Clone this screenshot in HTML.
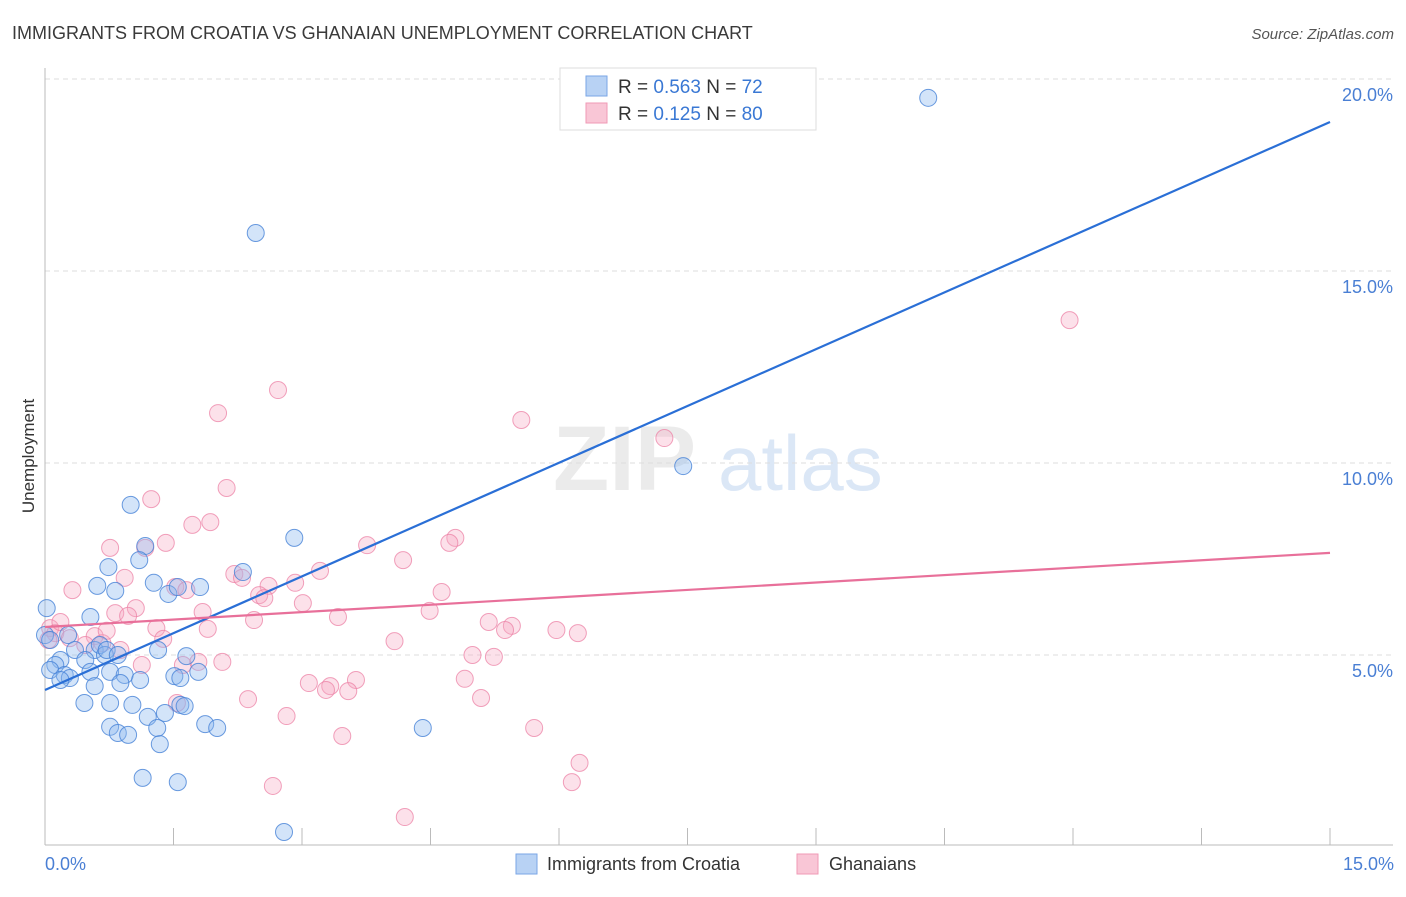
<!DOCTYPE html>
<html><head><meta charset="utf-8"><style>
body{margin:0;background:#fff;font-family:"Liberation Sans",sans-serif;}
svg text{font-family:"Liberation Sans",sans-serif;}
</style></head><body>
<svg id="chart" width="1406" height="892" viewBox="0 0 1406 892" xmlns="http://www.w3.org/2000/svg">
<text x="12" y="39" font-size="18" fill="#3a3a3a">IMMIGRANTS FROM CROATIA VS GHANAIAN UNEMPLOYMENT CORRELATION CHART</text>
<text x="1394" y="39" font-size="15" fill="#555" font-style="italic" text-anchor="end">Source: ZipAtlas.com</text>
<g opacity="0.5">
<text x="553" y="490" font-size="92" font-family="Liberation Serif" fill="#d8d8d8" font-weight="bold">ZIP</text>
<text x="718" y="490" font-size="78" fill="#b9d0ef">atlas</text>
</g>
<g id="grid"></g>
<g id="axes"></g>
<g id="marks"></g>
<text transform="translate(34,456) rotate(-90)" font-size="17" fill="#333" text-anchor="middle">Unemployment</text>
<text x="45" y="870" font-size="18" fill="#4a7fd4">0.0%</text>
<text x="1394" y="870" font-size="18" fill="#4a7fd4" text-anchor="end">15.0%</text>
<g>
<rect x="560" y="68" width="256" height="62" fill="#fff" stroke="#ddd"/>
<rect x="586" y="76" width="21" height="20" fill="#b8d2f4" stroke="#7aa6e6"/>
<rect x="586" y="103" width="21" height="20" fill="#f9c6d6" stroke="#f09ab6"/>
<text x="618" y="93" font-size="19" fill="#333">R = <tspan fill="#3a78d4">0.563</tspan>   N =  <tspan fill="#3a78d4">72</tspan></text>
<text x="618" y="120" font-size="19" fill="#333">R =  <tspan fill="#3a78d4">0.125</tspan>   N = <tspan fill="#3a78d4">80</tspan></text>
</g>
<g>
<rect x="516" y="854" width="21" height="20" fill="#b8d2f4" stroke="#7aa6e6"/>
<text x="547" y="870" font-size="18" fill="#333">Immigrants from Croatia</text>
<rect x="797" y="854" width="21" height="20" fill="#f9c6d6" stroke="#f09ab6"/>
<text x="829" y="870" font-size="18" fill="#333">Ghanaians</text>
</g>
</svg>
<script>
const blueX=[10.31,2.46,7.45,2.91,1.00,1.17,1.10,0.74,1.27,0.61,0.82,1.44,1.55,1.81,2.31,0.53,0.02,0.00,0.06,0.27,0.35,0.58,0.64,0.70,0.47,0.18,0.12,0.06,0.23,0.29,0.18,0.53,0.58,0.76,0.93,0.88,1.11,1.32,1.51,1.58,1.65,1.79,0.46,0.76,1.02,1.20,1.40,1.31,1.58,1.63,1.87,2.01,0.76,0.85,0.97,1.34,1.14,1.55,2.79,4.41,0.72,0.85];
const blueY=[19.51,15.99,9.92,8.05,8.91,7.84,7.47,7.29,6.88,6.80,6.67,6.59,6.77,6.77,7.16,5.99,6.22,5.52,5.39,5.52,5.13,5.13,5.26,5.00,4.87,4.87,4.74,4.61,4.48,4.40,4.35,4.56,4.19,4.56,4.48,4.27,4.35,5.13,4.45,4.40,4.97,4.56,3.75,3.75,3.70,3.39,3.49,3.10,3.70,3.67,3.20,3.10,3.13,2.97,2.92,2.68,1.80,1.69,0.39,3.10,5.13,5.00];
const pinkX=[11.96,2.72,2.02,5.56,7.23,1.24,2.12,1.93,1.72,4.79,4.72,3.76,1.41,1.17,0.76,4.18,3.21,0.93,2.21,2.30,2.92,2.61,1.52,1.65,0.32,4.63,2.50,2.56,3.01,1.06,1.84,0.82,4.49,0.97,3.42,2.44,1.30,1.90,5.18,5.45,5.37,5.97,6.22,1.38,4.08,0.06,0.12,0.04,0.29,0.58,0.47,0.88,0.67,4.99,5.24,1.61,1.79,2.07,1.13,3.08,3.63,3.33,3.28,3.54,4.90,5.09,2.37,1.54,2.82,5.71,3.47,6.24,6.15,2.66,4.20,0.72,0.18];
const pinkY=[13.72,11.90,11.30,11.12,10.65,9.06,9.35,8.46,8.39,8.05,7.92,7.86,7.92,7.79,7.79,7.47,7.19,7.01,7.11,7.01,6.88,6.80,6.77,6.69,6.69,6.64,6.56,6.48,6.35,6.22,6.12,6.09,6.15,6.02,5.99,5.91,5.70,5.68,5.86,5.76,5.65,5.65,5.57,5.42,5.36,5.70,5.57,5.39,5.44,5.49,5.26,5.13,5.31,5.00,4.95,4.74,4.82,4.82,4.74,4.27,4.35,4.19,4.09,4.06,4.38,3.88,3.85,3.75,3.41,3.10,2.89,2.19,1.69,1.59,0.78,5.63,5.86];
const blueTrend=[4.09,18.88];
const pinkTrend=[5.73,7.66];
const xTicks=[0,1.5,3,4.5,6,7.5,9,10.5,12,13.5,15];
const yTicks=[5,10,15,20];
const yTickLabels=["5.0%","10.0%","15.0%","20.0%"];

const NS="http://www.w3.org/2000/svg";
const sx=v=>45+v*(1330-45)/15;
const sy=v=>847-v*38.4;
function mk(tag,attrs,parent){const e=document.createElementNS(NS,tag);for(const k in attrs)e.setAttribute(k,attrs[k]);parent.appendChild(e);return e;}
const grid=document.getElementById('grid'),axes=document.getElementById('axes'),marks=document.getElementById('marks');
yTicks.forEach((t,i)=>{
  const l=mk('line',{x1:45,x2:1393,y1:sy(t),y2:sy(t),stroke:'#ddd','stroke-dasharray':'5,4'},grid);
  
  
  const tx=mk('text',{x:1393,y:sy(t)+22,'font-size':18,fill:'#4a7fd4','text-anchor':'end'},axes);
  tx.textContent=yTickLabels[i];
  
  
});
const ya=mk('line',{x1:45,x2:45,y1:68,y2:845,stroke:'#bbb'},axes);


const xa=mk('line',{x1:45,x2:1393,y1:845,y2:845,stroke:'#bbb'},axes);


xTicks.forEach(t=>{
  const l=mk('line',{x1:sx(t),x2:sx(t),y1:828,y2:845,stroke:'#bbb'},axes);
  
  
});
function pts(X,Y,fill,stroke,name){
  X.forEach((x,i)=>{
    const c=mk('circle',{cx:sx(x),cy:sy(Y[i]),r:8.5,fill:fill,stroke:stroke,'stroke-width':1},marks);
    
    
  });
}
pts(pinkX,pinkY,'rgba(246,170,196,0.35)','rgba(236,130,166,0.75)','point-ghanaians');
pts(blueX,blueY,'rgba(140,184,238,0.38)','rgba(70,130,215,0.8)','point-croatia');
const bl=mk('line',{x1:sx(0),y1:sy(blueTrend[0]),x2:sx(15),y2:sy(blueTrend[1]),stroke:'#2a6fd6','stroke-width':2.2},marks);


const pl=mk('line',{x1:sx(0),y1:sy(pinkTrend[0]),x2:sx(15),y2:sy(pinkTrend[1]),stroke:'#e8709a','stroke-width':2.2},marks);


</script>
</body></html>
